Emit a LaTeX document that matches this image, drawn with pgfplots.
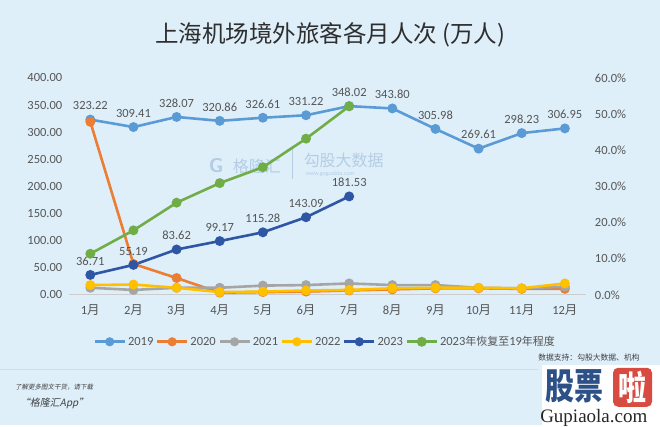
\documentclass[border=0pt]{standalone}
\usepackage{pgfplots}
\pgfplotsset{compat=1.18}
\usepackage{fontspec}
\setmainfont{Carlito}
\newfontfamily\cjk{Noto Sans CJK SC}
\newfontfamily\serif{Liberation Serif}
\definecolor{bg}{RGB}{222,239,250}
\definecolor{txt}{RGB}{85,85,85}
\definecolor{c19}{RGB}{91,155,213}
\definecolor{c20}{RGB}{237,125,49}
\definecolor{c21}{RGB}{165,165,165}
\definecolor{c22}{RGB}{255,192,0}
\definecolor{c23}{RGB}{47,85,165}
\definecolor{cgr}{RGB}{112,173,71}
\definecolor{wm}{RGB}{180,205,228}
\definecolor{logob}{RGB}{45,80,135}
\definecolor{logor}{RGB}{215,75,65}
\pgfplotsset{/pgf/number format/assume math mode=true}

\begin{document}
\begin{tikzpicture}[x=1pt,y=1pt]
\fill[bg] (0,0) rectangle (660,425);
\node[font=\cjk\fontsize{23.5}{26}\selectfont, text=black!82] at (330,390) {上海机场境外旅客各月人次 (万人)};

% faint watermark
\node[font=\sffamily\bfseries\fontsize{20}{22}\selectfont, text=wm] at (216,259) {G};
\node[anchor=west, font=\cjk\fontsize{16}{18}\selectfont, text=wm] at (229,258) {格隆汇};
\draw[wm, line width=0.6pt] (292,246) -- (292,276);
\node[anchor=west, font=\cjk\fontsize{16}{18}\selectfont, text=wm] at (300,264) {勾股大数据};
\node[anchor=west, font=\fontsize{6}{7}\selectfont, text=wm] at (302,251) {www.gogudata.com};

\begin{axis}[
    at={(68.4pt,130pt)}, anchor=south west, scale only axis,
    width=518pt, height=217pt,
    xmin=0.5, xmax=12.5, ymin=0, ymax=400,
    xtick={1,...,12},
    xticklabels={1{\cjk 月},2{\cjk 月},3{\cjk 月},4{\cjk 月},5{\cjk 月},6{\cjk 月},
                 7{\cjk 月},8{\cjk 月},9{\cjk 月},10{\cjk 月},11{\cjk 月},12{\cjk 月}},
    ytick={0,50,...,400},
    yticklabel={\pgfmathprintnumber[fixed,zerofill,precision=2]{\tick}},
    axis x line*=bottom, axis y line*=left,
    x axis line style={draw=black!20, line width=0.8pt, -},
    y axis line style={draw=none},
    major tick length=0pt,
    tick label style={font=\fontsize{12.5}{14}\selectfont, text=txt},
    xticklabel style={yshift=-6pt},
    yticklabel style={xshift=-3pt},
    clip=false,
    every axis plot/.append style={line width=2.6pt, mark=*, mark size=3.6pt},
    nodelab/.style={nodes near coords={\pgfmathprintnumber[fixed,zerofill,precision=2]{\pgfplotspointmeta}},
        every node near coord/.append style={font=\fontsize{12.5}{14}\selectfont, text=txt, yshift=5pt}},
]
\addplot[color=c19, nodelab] coordinates {(1,323.22) (2,309.41) (3,328.07) (4,320.86) (5,326.61) (6,331.22) (7,348.02) (8,343.80) (9,305.98) (10,269.61) (11,298.23) (12,306.95)};
\addplot[color=c20] coordinates {(1,319) (2,57) (3,31) (4,4) (5,5) (6,6) (7,8) (8,10) (9,12) (10,12) (11,11) (12,11)};
\addplot[color=c21] coordinates {(1,13) (2,9) (3,13) (4,13) (5,17) (6,18) (7,21) (8,18) (9,18) (10,13) (11,12) (12,15)};
\addplot[color=c22] coordinates {(1,18) (2,19) (3,13) (4,5) (5,6) (6,8) (7,9) (8,12) (9,13) (10,13) (11,12) (12,21)};
\addplot[color=c23, nodelab] coordinates {(1,36.71) (2,55.19) (3,83.62) (4,99.17) (5,115.28) (6,143.09) (7,181.53)};
\end{axis}

\begin{axis}[
    at={(68.4pt,130pt)}, anchor=south west, scale only axis,
    width=518pt, height=217pt,
    xmin=0.5, xmax=12.5, ymin=0, ymax=60,
    ytick={0,10,...,60},
    yticklabel={\pgfmathprintnumber[fixed,zerofill,precision=1]{\tick}\%},
    axis x line=none, axis y line*=right,
    y axis line style={draw=none},
    major tick length=0pt,
    tick label style={font=\fontsize{12.5}{14}\selectfont, text=txt},
    yticklabel style={xshift=5pt},
    clip=false,
    legend columns=6,
    legend style={draw=none, fill=none, at={(325pt-68.4pt,83pt-130pt)}, anchor=center,
        font=\fontsize{12.5}{14}\selectfont, text=txt,
        nodes={inner xsep=2pt},
        /tikz/every even column/.append style={column sep=0.5pt}},
    legend image code/.code={\draw[#1, mark repeat=2, mark phase=2]
        plot coordinates {(0pt,0pt) (15pt,0pt) (30pt,0pt)};},
]
\addlegendimage{color=c19, line width=2.6pt, mark=*, mark size=3.2pt}
\addlegendentry{2019}
\addlegendimage{color=c20, line width=2.6pt, mark=*, mark size=3.2pt}
\addlegendentry{2020}
\addlegendimage{color=c21, line width=2.6pt, mark=*, mark size=3.2pt}
\addlegendentry{2021}
\addlegendimage{color=c22, line width=2.6pt, mark=*, mark size=3.2pt}
\addlegendentry{2022}
\addlegendimage{color=c23, line width=2.6pt, mark=*, mark size=3.2pt}
\addlegendentry{2023}
\addplot[color=cgr, line width=2.6pt, mark=*, mark size=3.6pt] coordinates {(1,11.36) (2,17.84) (3,25.49) (4,30.91) (5,35.30) (6,43.20) (7,52.16)};
\addlegendentry{2023{\cjk\fontsize{11}{13}\selectfont 年恢复至}19{\cjk\fontsize{11}{13}\selectfont 年程度}}
\end{axis}

% footer
\draw[black!15, line width=0.8pt] (0,55) -- (538,55);
\node[anchor=west, inner sep=0pt, font=\cjk\fontsize{7.8}{9}\selectfont, text=black!75] at (538,67) {数据支持：勾股大数据、机构};
\node[anchor=west, inner sep=0pt, font=\cjk\fontsize{6.5}{8}\selectfont, text=black!75, xslant=0.2] at (15,38) {了解更多图文干货，请下载};
\node[anchor=west, inner sep=0pt, font=\cjk\fontsize{10}{12}\selectfont, text=black!75, xslant=0.2] at (20,21) {“格隆汇App”};
\fill[white] (542,0) rectangle (660,60);
\node[anchor=west, inner sep=0pt, font=\cjk\bfseries\fontsize{29}{31}\selectfont, text=logob, yscale=1.25] at (545,38) {股票};
\fill[logor, rounded corners=5pt] (613,18) rectangle (652,57);
\node[inner sep=0pt, font=\cjk\bfseries\fontsize{28}{30}\selectfont, text=white, yscale=1.2] at (632.5,37.5) {啦};
\node[anchor=west, inner sep=0pt, font=\serif\fontsize{19}{21}\selectfont, text=black!85] at (540,7) {Gupiaola.com};
\end{tikzpicture}
\end{document}
